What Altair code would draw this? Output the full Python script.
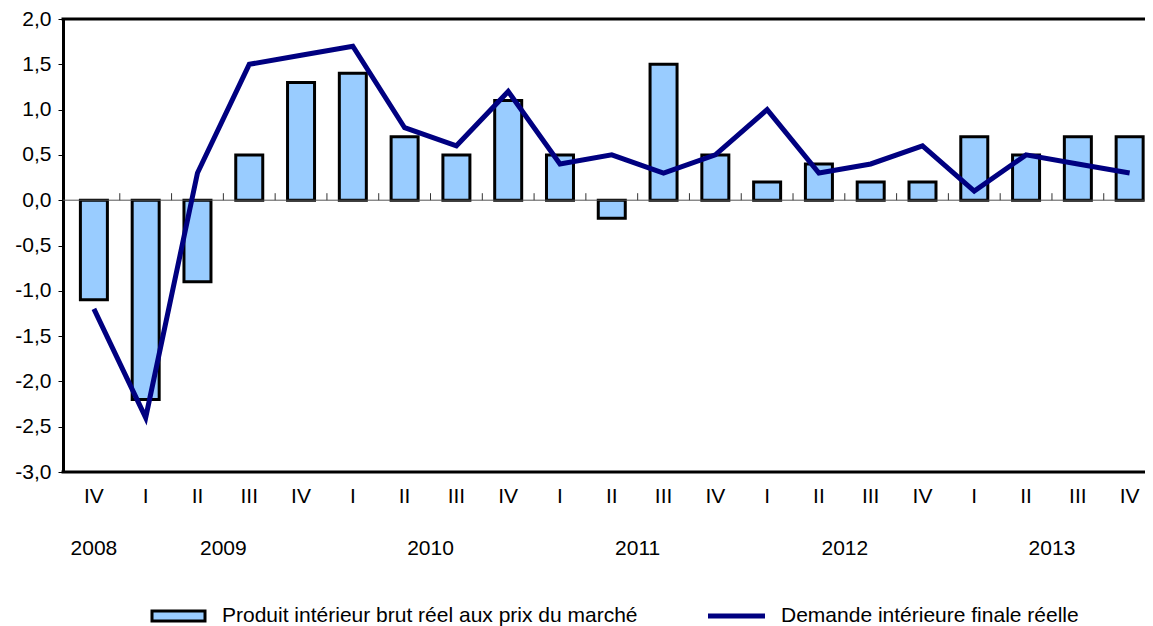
import altair as alt
import pandas as pd

# ---- data ----
quarters = ["IV", "I", "II", "III", "IV", "I", "II", "III", "IV", "I", "II",
            "III", "IV", "I", "II", "III", "IV", "I", "II", "III", "IV"]
quarter_year = [2008, 2009, 2009, 2009, 2009, 2010, 2010, 2010, 2010, 2011, 2011,
                2011, 2011, 2012, 2012, 2012, 2012, 2013, 2013, 2013, 2013]
pib = [-1.1, -2.2, -0.9, 0.5, 1.3, 1.4, 0.7, 0.5, 1.1, 0.5, -0.2,
       1.5, 0.5, 0.2, 0.4, 0.2, 0.2, 0.7, 0.5, 0.7, 0.7]
demande = [-1.2, -2.4, 0.3, 1.5, 1.6, 1.7, 0.8, 0.6, 1.2, 0.4, 0.5,
           0.3, 0.5, 1.0, 0.3, 0.4, 0.6, 0.1, 0.5, 0.4, 0.3]
years = ["2008", "2009", "2010", "2011", "2012", "2013"]
y_ticks = [-3.0, -2.5, -2.0, -1.5, -1.0, -0.5, 0.0, 0.5, 1.0, 1.5, 2.0]
legend_labels = ["Produit intérieur brut réel aux prix du marché",
                 "Demande intérieure finale réelle"]

FONT = "Liberation Sans"
FS = 21
W, H = 1082, 453
TOTAL_H = 618

df = pd.DataFrame({"idx": list(range(len(quarters))), "quarter": quarters,
                   "pib": pib, "demande": demande, "yr": quarter_year})

# year label anchors: 2008 under its single quarter, other years between II and III
year_pos = []
for y in years:
    idxs = [i for i, q in enumerate(quarter_year) if str(q) == y]
    if len(idxs) == 1:
        year_pos.append(float(idxs[0]))
    else:
        ii = [i for i in idxs if quarters[i] == "II"][0]
        year_pos.append(ii + 0.5)
ydf = pd.DataFrame({"year": years, "pos": year_pos})
tdf = pd.DataFrame({"tk": [i + 0.5 for i in range(len(quarters) - 1)]})
one = pd.DataFrame({"a": [0]})

xs = alt.Scale(domain=[-0.5, 20.2], nice=False, zero=False)
ys = alt.Scale(domain=[-3, 2], nice=False, zero=False)

base = alt.Chart(df)

bars = base.mark_bar(size=27, fill="#99CCFF", stroke="black", strokeWidth=3,
                     clip=True).encode(
    x=alt.X("idx:Q", scale=xs, axis=None),
    y=alt.Y("pib:Q", scale=ys, title=None,
            axis=alt.Axis(values=y_ticks, grid=False, tickSize=5, tickColor="black",
                          tickWidth=1, domainColor="black", domainWidth=3,
                          labelFont=FONT, labelFontSize=FS, labelColor="black",
                          labelPadding=7,
                          labelExpr="(datum.value < 0 ? '-' : '') + replace(format(abs(datum.value), '.1f'), '.', ',')")),
    y2=alt.datum(0),
)

zero_line = alt.Chart(one).mark_rule(color="#555555", strokeWidth=1).encode(
    x=alt.value(0), x2=alt.value(W), y=alt.datum(0))

zero_ticks = alt.Chart(tdf).mark_rule(color="#333333", strokeWidth=1, y2Offset=-7).encode(
    x=alt.X("tk:Q", scale=xs), y=alt.datum(0), y2=alt.datum(0))

top_rule = alt.Chart(one).mark_rule(color="black", strokeWidth=3).encode(
    x=alt.value(-1.5), x2=alt.value(W), y=alt.datum(2))
bot_rule = alt.Chart(one).mark_rule(color="black", strokeWidth=3).encode(
    x=alt.value(-1.5), x2=alt.value(W), y=alt.datum(-3))

line = base.mark_line(color="#000080", strokeWidth=5, strokeJoin="miter",
                      clip=True).encode(
    x=alt.X("idx:Q", scale=xs), y=alt.Y("demande:Q", scale=ys))

qlabels = base.mark_text(font=FONT, fontSize=FS, color="black", baseline="middle").encode(
    x=alt.X("idx:Q", scale=xs), y=alt.value(478), text="quarter:N")

ylabels = alt.Chart(ydf).mark_text(font=FONT, fontSize=FS, color="black",
                                   baseline="middle").encode(
    x=alt.X("pos:Q", scale=xs), y=alt.value(530), text="year:N")

LY = 597
leg_rect = alt.Chart(one).mark_rect(fill="#99CCFF", stroke="black", strokeWidth=3).encode(
    x=alt.value(89), x2=alt.value(142), y=alt.value(LY - 5), y2=alt.value(LY + 5))
leg_text1 = alt.Chart(one).mark_text(font=FONT, fontSize=FS, color="black", align="left",
                                     baseline="middle").encode(
    x=alt.value(159), y=alt.value(LY), text=alt.value(legend_labels[0]))
leg_line = alt.Chart(one).mark_rule(color="#000080", strokeWidth=5).encode(
    x=alt.value(645), x2=alt.value(702), y=alt.value(LY))
leg_text2 = alt.Chart(one).mark_text(font=FONT, fontSize=FS, color="black", align="left",
                                     baseline="middle").encode(
    x=alt.value(718), y=alt.value(LY), text=alt.value(legend_labels[1]))

chart = alt.layer(
    bars, zero_line, zero_ticks, line, top_rule, bot_rule,
    qlabels, ylabels, leg_rect, leg_text1, leg_line, leg_text2,
).properties(
    width=W, height=H,
    autosize=alt.AutoSizeParams(type="none"),
    padding={"left": 55, "top": 11, "right": 0, "bottom": TOTAL_H - 11 - H},
).configure_view(stroke=None).configure(background="white")

chart.save("out.html", embed_options={"renderer": "svg", "actions": False})
